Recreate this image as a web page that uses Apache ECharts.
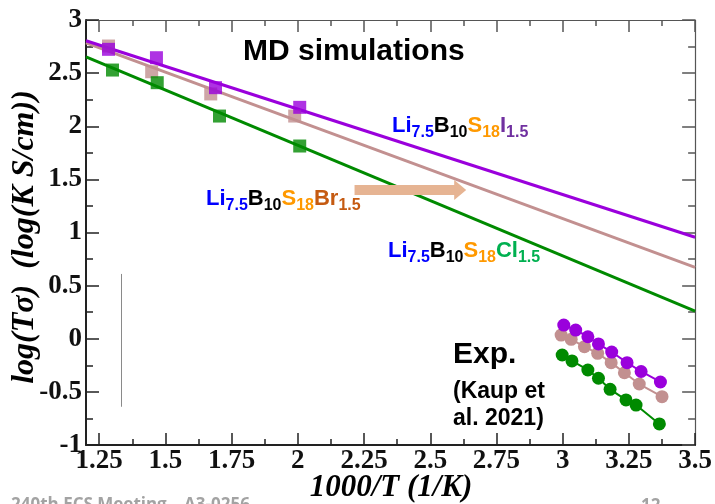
<!DOCTYPE html>
<html><head><meta charset="utf-8">
<script src="https://cdn.jsdelivr.net/npm/echarts@6/dist/echarts.min.js"></script>
<style>html,body{margin:0;padding:0;background:#fff}#c{width:715px;height:504px}</style>
</head><body><div id="c"></div>
<script>
// MD simulation points
const mdX_I = [1.285, 1.466, 1.689, 2.007];
const mdY_I = [2.724, 2.645, 2.363, 2.178];
const mdX_Br = [1.285, 1.448, 1.671, 1.988];
const mdY_Br = [2.755, 2.513, 2.304, 2.096];
const mdX_Cl = [1.300, 1.469, 1.704, 2.007];
const mdY_Cl = [2.529, 2.410, 2.096, 1.814];
// Fit lines
const fitX = [1.2, 3.5];
const fitY_I = [2.805, 0.955];
const fitY_Br = [2.785, 0.672];
const fitY_Cl = [2.652, 0.261];
// Experimental (Kaup et al. 2021)
const expX_I = [3.004, 3.049, 3.095, 3.135, 3.185, 3.243, 3.296, 3.369];
const expY_I = [0.129, 0.082, 0.019, -0.049, -0.125, -0.225, -0.308, -0.407];
const expX_Br = [2.994, 3.032, 3.082, 3.132, 3.183, 3.233, 3.289, 3.375];
const expY_Br = [0.035, -0.005, -0.075, -0.137, -0.225, -0.320, -0.426, -0.545];
const expX_Cl = [2.998, 3.035, 3.095, 3.135, 3.179, 3.239, 3.277, 3.365];
const expY_Cl = [-0.153, -0.209, -0.294, -0.372, -0.476, -0.576, -0.624, -0.802];
// Axis ticks
const xMajor = [1.25, 1.5, 1.75, 2, 2.25, 2.5, 2.75, 3, 3.25, 3.5];
const xMinor = [1.375, 1.625, 1.875, 2.125, 2.375, 2.625, 2.875, 3.125, 3.375];
const xRange = [1.2, 3.5];
const yRange = [-1, 3];
// Annotation arrow and marker line (data coords)
const arrowX = [2.214, 2.613];
const arrowY = 1.4;
const markX = 1.333;
const markY = [0.61, -0.64];

const zip = (xs, ys) => xs.map((x, i) => [x, ys[i]]);

const C_I = '#9a00dc', C_Br = '#c29090', C_Cl = '#008a00';
const serif = '"Liberation Serif", "Times New Roman", serif';
const sans = '"Liberation Sans", Arial, sans-serif';

function xAx(pos, vals, len, showLine, showLabel) {
  return {
    type: 'value', position: pos, min: xRange[0], max: xRange[1],
    axisLine: { show: showLine, onZero: false, lineStyle: { color: pos === 'bottom' ? '#222' : '#555', width: pos === 'bottom' ? 2 : 1.2 } },
    axisTick: { show: true, inside: true, length: len, customValues: vals, lineStyle: { color: pos === 'bottom' ? '#222' : '#555', width: 1.5 } },
    axisLabel: showLabel ? { show: true, customValues: vals, margin: 3, fontFamily: serif, fontWeight: 'bold', fontSize: 27, color: '#111' } : { show: false },
    splitLine: { show: false }
  };
}
function yAx(pos, showLabel) {
  return {
    type: 'value', position: pos, min: yRange[0], max: yRange[1], interval: 0.5,
    axisLine: { show: true, onZero: false, lineStyle: { color: pos === 'left' ? '#222' : '#555', width: pos === 'left' ? 2 : 1.2 } },
    axisTick: { show: true, inside: true, length: 13, lineStyle: { color: pos === 'left' ? '#222' : '#555', width: 1.5 } },
    minorTick: { show: true, splitNumber: 2, length: 7, lineStyle: { color: pos === 'left' ? '#222' : '#555', width: 1.5 } },
    axisLabel: showLabel ? { show: true, margin: 4, fontFamily: serif, fontWeight: 'bold', fontSize: 27, color: '#111' } : { show: false },
    splitLine: { show: false }, minorSplitLine: { show: false }
  };
}

// Chemical formula labels laid out piece by piece (main text + subscripts)
const MAIN_FONT = 'bold 22px ' + sans;
const SUB_FONT = 'bold 16px ' + sans;
const measureCtx = document.createElement('canvas').getContext('2d');
function formula(x, cy, X, xColor) {
  const parts = [
    ['Li', '#0000ff', false], ['7.5', '#0000ff', true],
    ['B', '#000000', false], ['10', '#000000', true],
    ['S', '#ff9900', false], ['18', '#ff9900', true],
    [X, xColor, false], ['1.5', xColor, true]
  ];
  const children = [];
  let cx = x;
  parts.forEach(p => {
    const font = p[2] ? SUB_FONT : MAIN_FONT;
    measureCtx.font = font;
    children.push({ type: 'text', x: cx, y: p[2] ? cy + 7 : cy, z: 100,
      style: { text: p[0], font: font, fill: p[1], textAlign: 'left', textVerticalAlign: 'middle' } });
    cx += measureCtx.measureText(p[0]).width;
  });
  return { type: 'group', children: children };
}
function txt(x, y, text, font, color, align, extra) {
  return Object.assign({ type: 'text', x: x, y: y, z: 100,
    style: { text: text, font: font, fill: color, textAlign: align || 'left', textVerticalAlign: 'middle' } }, extra || {});
}

const chart = echarts.init(document.getElementById('c'), null, { renderer: 'canvas' });
chart.setOption({
  animation: false,
  backgroundColor: '#fff',
  grid: { left: 86, right: 19, top: 20, bottom: 59, containLabel: false },
  xAxis: [
    xAx('bottom', xMajor, 12, true, true),
    xAx('bottom', xMinor, 6, false, false),
    xAx('top', xMajor, 12, true, false),
    xAx('top', xMinor, 6, false, false)
  ],
  yAxis: [yAx('left', true), yAx('right', false)],
  series: [
    { type: 'line', data: zip(fitX, fitY_Br), symbol: 'none', lineStyle: { color: C_Br, width: 3 }, z: 2 },
    { type: 'line', data: zip(fitX, fitY_Cl), symbol: 'none', lineStyle: { color: C_Cl, width: 3 }, z: 2 },
    { type: 'line', data: zip(fitX, fitY_I), symbol: 'none', lineStyle: { color: C_I, width: 3 }, z: 2 },
    { type: 'scatter', data: zip(mdX_Br, mdY_Br), symbol: 'rect', symbolSize: 13, itemStyle: { color: C_Br }, z: 3 },
    { type: 'scatter', data: zip(mdX_Cl, mdY_Cl), symbol: 'rect', symbolSize: 13, itemStyle: { color: C_Cl }, z: 3 },
    { type: 'scatter', data: zip(mdX_I, mdY_I), symbol: 'rect', symbolSize: 13, itemStyle: { color: C_I }, z: 3 },
    { type: 'line', data: zip(expX_Br, expY_Br), symbol: 'circle', symbolSize: 13, showSymbol: true,
      lineStyle: { color: C_Br, width: 2 }, itemStyle: { color: C_Br }, z: 4 },
    { type: 'line', data: zip(expX_Cl, expY_Cl), symbol: 'circle', symbolSize: 13, showSymbol: true,
      lineStyle: { color: C_Cl, width: 2 }, itemStyle: { color: C_Cl }, z: 4 },
    { type: 'line', data: zip(expX_I, expY_I), symbol: 'circle', symbolSize: 13, showSymbol: true,
      lineStyle: { color: C_I, width: 2 }, itemStyle: { color: C_I }, z: 5 },
    { type: 'line', data: [], z: 6,
      markLine: { silent: true, animation: false, label: { show: false },
        data: [
          [{ coord: [arrowX[0], arrowY], symbol: 'none', lineStyle: { color: '#e6b493', width: 10, type: 'solid' } },
           { coord: [arrowX[1], arrowY], symbol: 'triangle', symbolSize: [20, 12] }],
          [{ coord: [markX, markY[0]], symbol: 'none', lineStyle: { color: '#8a8a8a', width: 1, type: 'solid' } },
           { coord: [markX, markY[1]], symbol: 'none' }]
        ],
        itemStyle: { color: '#e6b493' }
      } }
  ],
  graphic: [
    txt(243, 52, 'MD simulations', 'bold 30px ' + sans, '#000'),
    formula(392, 126, 'I', '#7030a0'),
    formula(206, 199, 'Br', '#c55a11'),
    formula(388, 251, 'Cl', '#00b050'),
    txt(453, 355, 'Exp.', 'bold 30px ' + sans, '#000'),
    txt(453, 392, '(Kaup et', 'bold 23px ' + sans, '#000'),
    txt(453, 419, 'al. 2021)', 'bold 23px ' + sans, '#000'),
    txt(25, 237, 'log(Tσ)  (log(K S/cm))', 'italic bold 32px ' + serif, '#000', 'center', { rotation: Math.PI / 2 }),
    txt(391, 488, '1000/T (1/K)', 'italic bold 31px ' + serif, '#000', 'center'),
    { type: 'text', x: 11, y: 497, z: 100, style: { text: '240th ECS Meeting – A3-0256', font: 'bold 17px "Open Sans", ' + sans, fill: '#a3a3a3', textVerticalAlign: 'top' } },
    { type: 'text', x: 641, y: 498, z: 100, style: { text: '12', font: 'bold 17px "Open Sans", ' + sans, fill: '#a3a3a3', textVerticalAlign: 'top' } }
  ]
});
</script></body></html>
